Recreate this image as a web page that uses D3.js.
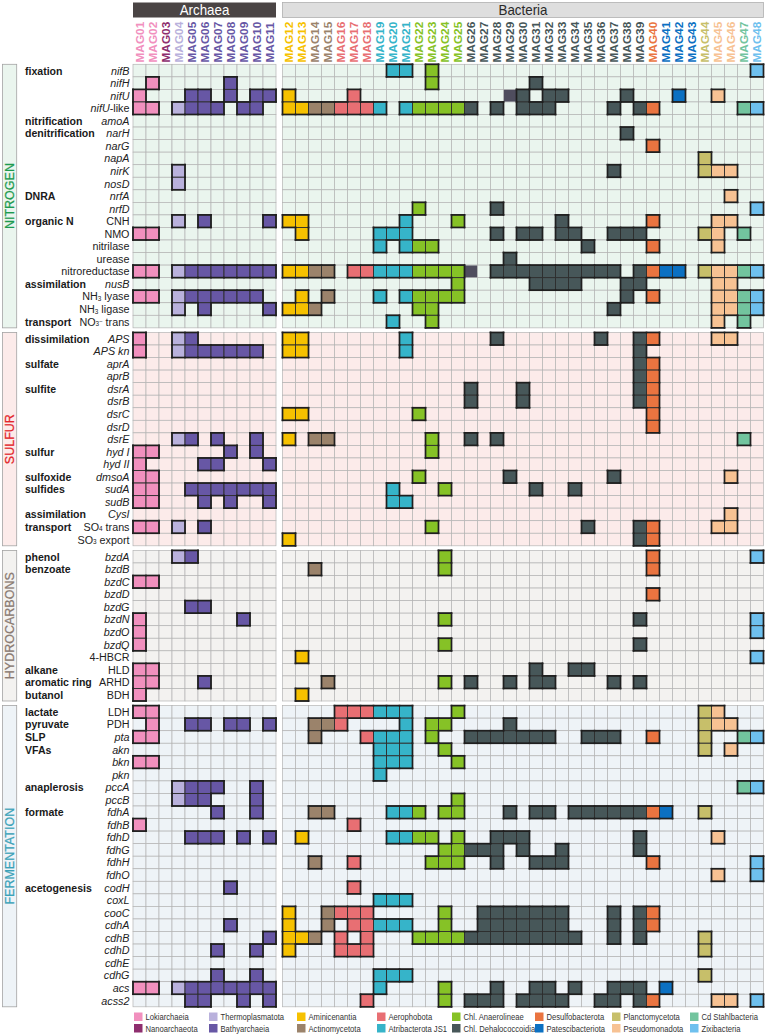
<!DOCTYPE html>
<html>
<head>
<meta charset="utf-8">
<script src="https://cdn.jsdelivr.net/npm/d3@7"></script>
<style>
  body { margin: 0; background: #fff; }
  svg { display: block; }
</style>
</head>
<body>
<div id="app"></div>
<script>
// ---- data ----
const mags = ['MAG01','MAG02','MAG03','MAG04','MAG05','MAG06','MAG07','MAG08','MAG09','MAG10','MAG11',
  'MAG12','MAG13','MAG14','MAG15','MAG16','MAG17','MAG18','MAG19','MAG20','MAG21','MAG22','MAG23','MAG24',
  'MAG25','MAG26','MAG27','MAG28','MAG29','MAG30','MAG31','MAG32','MAG33','MAG34','MAG35','MAG36','MAG37',
  'MAG38','MAG39','MAG40','MAG41','MAG42','MAG43','MAG44','MAG45','MAG46','MAG47','MAG48']
const archaeaCount = 11

const phyla = ['Lokiarchaeia','Nanoarchaeota','Thermoplasmatota','Bathyarchaeia','Aminicenantia','Actinomycetota',
  'Aerophobota','Atribacterota JS1','Chl. Anaerolineae','Chl. Dehalococcoidia','Desulfobacterota','Patescibacteriota',
  'Planctomycetota','Pseudomonadota','Cd Stahlbacteria','Zixibacteria']
const phylumColors = ['#f190be','#8e2e6e','#b9b1dc','#6757a5','#f6c100','#9b836b',
  '#e86f73','#36b4c9','#86c226','#475759','#ea7440','#0b70c2',
  '#c7bf6a','#f7c293','#72c49e','#6ec0ee']

const magPhylum = [
  'Lokiarchaeia','Lokiarchaeia','Nanoarchaeota','Thermoplasmatota',
  'Bathyarchaeia','Bathyarchaeia','Bathyarchaeia','Bathyarchaeia','Bathyarchaeia','Bathyarchaeia','Bathyarchaeia',
  'Aminicenantia','Aminicenantia','Actinomycetota','Actinomycetota',
  'Aerophobota','Aerophobota','Aerophobota',
  'Atribacterota JS1','Atribacterota JS1','Atribacterota JS1',
  'Chl. Anaerolineae','Chl. Anaerolineae','Chl. Anaerolineae','Chl. Anaerolineae',
  'Chl. Dehalococcoidia','Chl. Dehalococcoidia','Chl. Dehalococcoidia','Chl. Dehalococcoidia','Chl. Dehalococcoidia',
  'Chl. Dehalococcoidia','Chl. Dehalococcoidia','Chl. Dehalococcoidia','Chl. Dehalococcoidia','Chl. Dehalococcoidia',
  'Chl. Dehalococcoidia','Chl. Dehalococcoidia','Chl. Dehalococcoidia','Chl. Dehalococcoidia',
  'Desulfobacterota','Patescibacteriota','Patescibacteriota','Patescibacteriota',
  'Planctomycetota','Pseudomonadota','Pseudomonadota','Cd Stahlbacteria','Zixibacteria']

// legend: two rows, read column by column
const legendTop = ['Lokiarchaeia','Thermoplasmatota','Aminicenantia','Aerophobota','Chl. Anaerolineae','Desulfobacterota','Planctomycetota','Cd Stahlbacteria']
const legendBottom = ['Nanoarchaeota','Bathyarchaeia','Actinomycetota','Atribacterota JS1','Chl. Dehalococcoidia','Patescibacteriota','Pseudomonadota','Zixibacteria']

// NITROGEN
const nitrogenGenes = ['nifB','nifH','nifU','nifU-like','amoA','narH','narG','napA','nirK','nosD','nrfA','nrfD',
  'CNH','NMO','nitrilase','urease','nitroreductase','nusB','NH3 lyase','NH3 ligase','NO3- trans']
const nitrogenProcesses = [['fixation','nifB'],['nitrification','amoA'],['denitrification','narH'],['DNRA','nrfA'],
  ['organic N','CNH'],['assimilation','nusB'],['transport','NO3- trans']]
const nitrogenHits = {
  'nifB': [20,21,23,48],
  'nifH': [2,8,23,31],
  'nifU': [1,5,6,8,10,11,12,17,30,32,33,38,42,45],
  'nifU-like': [1,2,4,5,6,7,9,10,12,13,14,15,16,17,18,19,21,22,23,24,25,26,28,30,31,32,37,39,40,47,48],
  'amoA': [],
  'narH': [38],
  'narG': [40],
  'napA': [44],
  'nirK': [4,37,44,45,46],
  'nosD': [4],
  'nrfA': [46],
  'nrfD': [22,28,48],
  'CNH': [4,6,11,12,13,21,25,33,40,45,46],
  'NMO': [1,2,13,19,20,21,28,30,31,33,34,37,38,39,44,45,47],
  'nitrilase': [19,21,22,23,35,40,45],
  'urease': [29],
  'nitroreductase': [1,2,4,5,6,7,8,9,10,11,12,13,14,15,17,18,19,20,21,22,23,24,25,28,29,30,31,32,33,34,35,36,37,39,40,41,42,44,45,46,47,48],
  'nusB': [25,31,32,33,34,38,39,45,46],
  'NH3 lyase': [1,2,4,5,6,7,8,9,10,13,15,19,21,22,23,24,25,38,40,45,46,47,48],
  'NH3 ligase': [4,6,11,12,13,14,22,23,37,45,46,47,48],
  'NO3- trans': [20,23,45,47]
}
// faint, unframed hits
const nitrogenFaint = { 'nifU': [29], 'nitroreductase': [26] }

// SULFUR
const sulfurGenes = ['APS','APS kn','aprA','aprB','dsrA','dsrB','dsrC','dsrD','dsrE','hyd I','hyd II','dmsoA',
  'sudA','sudB','CysI','SO4 trans','SO3 export']
const sulfurProcesses = [['dissimilation','APS'],['sulfate','aprA'],['sulfite','dsrA'],['sulfur','hyd I'],
  ['sulfoxide','dmsoA'],['sulfides','sudA'],['assimilation','CysI'],['transport','SO4 trans']]
const sulfurHits = {
  'APS': [1,4,5,12,13,21,28,36,39,40,45,46],
  'APS kn': [1,4,5,6,7,8,9,10,12,13,21,39],
  'aprA': [39,40],
  'aprB': [39,40],
  'dsrA': [26,30,39,40],
  'dsrB': [26,30,39,40],
  'dsrC': [12,13,22,40],
  'dsrD': [40],
  'dsrE': [4,5,7,10,12,14,15,23,26,28,47],
  'hyd I': [1,2,8,10,23],
  'hyd II': [1,6,7,11],
  'dmsoA': [1,2,22,29,37,46],
  'sudA': [1,2,5,6,7,8,9,10,11,20,24,31,34],
  'sudB': [1,2,6,8,11,20,21],
  'CysI': [46],
  'SO4 trans': [1,2,4,6,23,35,39,40,45,46],
  'SO3 export': [12,39,40]
}

// HYDROCARBONS
const hydroGenes = ['bzdA','bzdB','bzdC','bzdD','bzdG','bzdN','bzdO','bzdQ','4-HBCR','HLD','ARHD','BDH']
const hydroProcesses = [['phenol','bzdA'],['benzoate','bzdB'],['alkane','HLD'],['aromatic ring','ARHD'],['butanol','BDH']]
const hydroHits = {
  'bzdA': [4,5,24,40,48],
  'bzdB': [14,24,40],
  'bzdC': [1,2],
  'bzdD': [40],
  'bzdG': [5,6],
  'bzdN': [1,9,24,39,48],
  'bzdO': [1,48],
  'bzdQ': [1,24,39],
  '4-HBCR': [13,48],
  'HLD': [1,2,31,34,35],
  'ARHD': [1,2,6,15,24,26,29,31,32,37,39],
  'BDH': [1,13]
}

// FERMENTATION
const fermGenes = ['LDH','PDH','pta','akn','bkn','pkn','pccA','pccB','fdhA','fdhB','fdhD','fdhG','fdhH','fdhO',
  'codH','coxL','cooC','cdhA','cdhB','cdhD','cdhE','cdhG','acs','acss2']
const fermProcesses = [['lactate','LDH'],['pyruvate','PDH'],['SLP','pta'],['VFAs','akn'],['anaplerosis','pccA'],
  ['formate','fdhA'],['acetogenesis','codH']]
const fermHits = {
  'LDH': [1,2,16,17,18,19,20,21,25,44,45],
  'PDH': [2,5,6,8,9,11,14,15,16,21,23,24,29,44,45,46],
  'pta': [1,2,14,18,19,20,21,23,26,27,28,29,30,31,32,35,36,37,40,44,47,48],
  'akn': [19,20,21,24,44,46],
  'bkn': [1,2,19,20,21,25],
  'pkn': [19],
  'pccA': [4,5,6,7,10,47,48],
  'pccB': [4,5,6,10,25],
  'fdhA': [7,10,14,15,20,21,22,24,25,29,31,32,34,35,36,37,38,39,40,41,44],
  'fdhB': [1,17],
  'fdhD': [5,6,7,9,11,13,20,21,22,23,25,28,29,30,39,45],
  'fdhG': [24,25,26,27,28,30,33,39],
  'fdhH': [14,17,23,24,25,28,31,32,33,40,48],
  'fdhO': [45,48],
  'codH': [8,17],
  'coxL': [19,20,21],
  'cooC': [12,15,16,17,18,24,27,28,29,30,31,32,33,37,39,40],
  'cdhA': [8,12,15,17,18,19,20,21,24,27,28,29,30,31,32,33,37,39,40],
  'cdhB': [11,12,13,14,16,18,22,23,24,25,26,27,28,29,30,31,32,33,34,37,39,44],
  'cdhD': [7,10,12,16,17,18,44],
  'cdhE': [],
  'cdhG': [7,10,19,20,21,44],
  'acs': [1,2,4,5,6,7,8,9,10,11,19,24,28,31,32,34,37,38,39,41],
  'acss2': [5,6,9,11,18,24,26,27,28,30,31,32,33,36,37,39,40,45,46,48]
}

// ---- layout ----
const W = 767, H = 1034
const colW = 13
const rowH = 12.55
const gridTop = 64.3
const sectionGap = 4.6
const labelRight = 129.5
const processX = 25
const labelSize = 11

const sections = [
  { name: 'NITROGEN', genes: nitrogenGenes, processes: nitrogenProcesses, hits: nitrogenHits, faint: nitrogenFaint, bg: '#eaf5ee', color: '#1d9a4e' },
  { name: 'SULFUR', genes: sulfurGenes, processes: sulfurProcesses, hits: sulfurHits, faint: {}, bg: '#fcebea', color: '#e3262b' },
  { name: 'HYDROCARBONS', genes: hydroGenes, processes: hydroProcesses, hits: hydroHits, faint: {}, bg: '#f3f2f0', color: '#8a7a72' },
  { name: 'FERMENTATION', genes: fermGenes, processes: fermProcesses, hits: fermHits, faint: {}, bg: '#eef3f7', color: '#3ba2b8' }
]

const xA = d3.scaleBand().domain(mags.slice(0, archaeaCount)).range([133, 133 + archaeaCount * colW])
const xB = d3.scaleBand().domain(mags.slice(archaeaCount)).range([282.5, 282.5 + (mags.length - archaeaCount) * colW])
const colX = m => mags.indexOf(m) < archaeaCount ? xA(m) : xB(m)
const color = d3.scaleOrdinal().domain(phyla).range(phylumColors)

let yCursor = gridTop
sections.forEach(s => {
  s.y = d3.scaleBand().domain(s.genes).range([yCursor, yCursor + s.genes.length * rowH])
  s.top = yCursor
  s.bottom = yCursor + s.genes.length * rowH
  yCursor = s.bottom + sectionGap
})

const svg = d3.select('#app').append('svg')
  .attr('width', W).attr('height', H)
  .attr('font-family', '"Liberation Sans", Arial, sans-serif')

// ---- header ----
const header = svg.append('g')
header.append('rect').attr('x', xA.range()[0]).attr('y', 2.5)
  .attr('width', xA.range()[1] - xA.range()[0]).attr('height', 15).attr('fill', '#4a4444')
header.append('text')
  .attr('transform', `translate(${(xA.range()[0] + xA.range()[1]) / 2},15.4) scale(0.92,1)`)
  .attr('text-anchor', 'middle').attr('font-size', 14.5).attr('fill', '#fff').text('Archaea')
header.append('rect').attr('x', xB.range()[0]).attr('y', 2.5)
  .attr('width', xB.range()[1] - xB.range()[0]).attr('height', 15)
  .attr('fill', '#dedede').attr('stroke', '#b0b0b0').attr('stroke-width', 0.8)
header.append('text')
  .attr('transform', `translate(${(xB.range()[0] + xB.range()[1]) / 2},15.4) scale(0.92,1)`)
  .attr('text-anchor', 'middle').attr('font-size', 14.5).attr('fill', '#2a2a2a').text('Bacteria')

svg.append('g').selectAll('text').data(mags).join('text')
  .attr('transform', d => `translate(${colX(d) + colW / 2 + 4.2},62.5) rotate(-90) scale(1.03,1)`)
  .attr('font-size', 11.5).attr('font-weight', 'bold')
  .attr('fill', (d, i) => color(magPhylum[i]))
  .text(d => d)

// ---- sections ----
const romanLabels = new Set(['CNH','NMO','nitrilase','urease','nitroreductase','NH3 lyase','NH3 ligase','NO3- trans',
  'SO4 trans','SO3 export','4-HBCR','HLD','ARHD','BDH','LDH','PDH'])

function geneLabel(t, label) {
  if (label === 'nifU-like') {
    t.append('tspan').attr('font-style', 'italic').text('nifU')
    t.append('tspan').text('-like')
    return
  }
  const m = label.match(/^(NH|NO|SO)(\d)(-?) (.*)$/)
  if (m) {
    t.append('tspan').text(m[1])
    t.append('tspan').attr('font-size', 6.5).attr('dy', 0.5).text(m[2])
    if (m[3]) t.append('tspan').attr('font-size', 6).attr('dy', -3.5).text('−')
    t.append('tspan').attr('dy', m[3] ? 3 : -0.5).text(' ' + m[4])
    return
  }
  t.attr('font-style', romanLabels.has(label) ? 'normal' : 'italic').text(label)
}

sections.forEach(s => {
  const g = svg.append('g')
  const h = s.bottom - s.top

  // side box with section name
  g.append('rect').attr('x', 2.5).attr('y', s.top).attr('width', 14.2).attr('height', h)
    .attr('fill', s.bg).attr('stroke', '#a3a3a3').attr('stroke-width', 0.8)
  g.append('text')
    .attr('transform', `translate(14.3,${(s.top + s.bottom) / 2}) rotate(-90)`)
    .attr('text-anchor', 'middle').attr('font-size', 12.5).attr('fill', s.color)
    .attr('stroke', s.color).attr('stroke-width', 0.25)
    .text(s.name)

  // empty grid
  const cells = []
  s.genes.forEach(gene => mags.forEach(m => cells.push({ gene, m })))
  g.append('g').selectAll('rect').data(cells).join('rect')
    .attr('x', d => colX(d.m)).attr('y', d => s.y(d.gene))
    .attr('width', colW).attr('height', s.y.bandwidth())
    .attr('fill', s.bg).attr('stroke', '#b4b4b4').attr('stroke-width', 0.7)

  // faint, unframed cells
  const faint = []
  s.genes.forEach(gene => (s.faint[gene] || []).forEach(n => faint.push({ gene, m: mags[n - 1] })))
  g.append('g').selectAll('rect').data(faint).join('rect')
    .attr('x', d => colX(d.m) + 0.4).attr('y', d => s.y(d.gene) + 0.4)
    .attr('width', colW - 0.8).attr('height', s.y.bandwidth() - 0.8)
    .attr('fill', '#4f4d5e')

  // filled cells
  const filled = []
  const has = new Set()
  s.genes.forEach((gene, r) => (s.hits[gene] || []).forEach(n => {
    filled.push({ gene, r, c: n - 1, m: mags[n - 1] })
    has.add(r + ',' + (n - 1))
  }))
  g.append('g').selectAll('rect').data(filled).join('rect')
    .attr('x', d => colX(d.m)).attr('y', d => s.y(d.gene))
    .attr('width', colW).attr('height', s.y.bandwidth())
    .attr('fill', d => color(magPhylum[d.c]))
    .attr('stroke', '#2e2e2e').attr('stroke-width', 0.9)

  // thicker contour around connected blocks
  const dom = c => c < archaeaCount ? 0 : 1
  const edges = []
  filled.forEach(d => {
    const x0 = colX(d.m), x1 = x0 + colW, y0 = s.y(d.gene), y1 = y0 + s.y.bandwidth()
    if (!has.has((d.r - 1) + ',' + d.c)) edges.push([x0, y0, x1, y0])
    if (!has.has((d.r + 1) + ',' + d.c)) edges.push([x0, y1, x1, y1])
    if (!(d.c > 0 && dom(d.c - 1) === dom(d.c) && has.has(d.r + ',' + (d.c - 1)))) edges.push([x0, y0, x0, y1])
    if (!(d.c < mags.length - 1 && dom(d.c + 1) === dom(d.c) && has.has(d.r + ',' + (d.c + 1)))) edges.push([x1, y0, x1, y1])
  })
  g.append('g').selectAll('line').data(edges).join('line')
    .attr('x1', d => d[0]).attr('y1', d => d[1]).attr('x2', d => d[2]).attr('y2', d => d[3])
    .attr('stroke', '#1f1f1f').attr('stroke-width', 1.7).attr('stroke-linecap', 'square')

  // gene labels
  s.genes.forEach(gene => {
    const t = g.append('text')
      .attr('transform', `translate(${labelRight},${s.y(gene) + rowH / 2 + 4}) scale(0.98,1)`)
      .attr('text-anchor', 'end').attr('font-size', labelSize).attr('fill', '#222')
    geneLabel(t, gene)
  })

  // process labels
  g.append('g').selectAll('text').data(s.processes).join('text')
    .attr('transform', d => `translate(${processX},${s.y(d[1]) + rowH / 2 + 4}) scale(0.96,1)`)
    .attr('font-size', labelSize).attr('font-weight', 'bold').attr('fill', '#1a1a1a')
    .text(d => d[0])
})

// ---- legend ----
const legendColX = [134, 209, 297, 377, 452, 535, 612, 690]
const legendItems = []
legendTop.forEach((p, i) => legendItems.push({ p, x: legendColX[i], y: 1012.5 }))
legendBottom.forEach((p, i) => legendItems.push({ p, x: legendColX[i], y: 1024 }))
const lg = svg.append('g').selectAll('g').data(legendItems).join('g')
  .attr('transform', d => `translate(${d.x},${d.y})`)
lg.append('rect').attr('width', 8.5).attr('height', 8.5).attr('fill', d => color(d.p))
lg.append('text').attr('transform', 'translate(11.5,7.8) scale(0.78,1)')
  .attr('font-size', 9.8).attr('fill', '#333').text(d => d.p)
</script>
</body>
</html>
